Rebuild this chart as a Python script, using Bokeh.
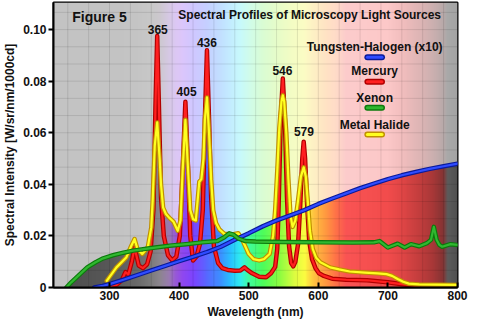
import numpy as np
from bokeh.plotting import figure
from bokeh.models import Range1d, FixedTicker, CustomJSTickFormatter
from bokeh.embed import file_html
from bokeh.resources import INLINE
from bokeh.core.properties import value

# ---------------- data ----------------
x_ticks = [300, 400, 500, 600, 700, 800]
y_ticks = [0, 0.02, 0.04, 0.06, 0.08, 0.10]

# Mercury
hg_wl = [280, 300, 310, 318, 323, 327, 332, 336, 339, 342, 348, 354, 359, 363, 366, 368.5, 371, 374, 378,
         384, 390, 396, 401, 405, 409, 413, 416, 420, 425, 430, 434, 437, 440, 443, 446, 450, 456, 462,
         470, 480, 488, 494, 498, 505, 515, 525, 532, 538, 541, 543, 546, 549, 552, 555, 558, 561, 564,
         567, 571, 574, 577, 579, 581, 584, 587, 591, 596, 601, 608, 620, 640, 670, 700, 720, 735, 745]
hg_val = [0.0, 0.0005, 0.001, 0.003, 0.006, 0.005, 0.010, 0.0155, 0.012, 0.0085, 0.0075, 0.009, 0.014,
          0.030, 0.070, 0.0975, 0.070, 0.035, 0.020, 0.0125, 0.0105, 0.012, 0.020, 0.045, 0.072, 0.045,
          0.020, 0.0105, 0.012, 0.017, 0.030, 0.065, 0.092, 0.065, 0.035, 0.016, 0.0095, 0.0075, 0.0068,
          0.0065, 0.0066, 0.0078, 0.0068, 0.0055, 0.0042, 0.004, 0.0055, 0.008, 0.015, 0.032, 0.065,
          0.081, 0.065, 0.035, 0.016, 0.0095, 0.0082, 0.010, 0.017, 0.032, 0.050, 0.0565, 0.050, 0.032,
          0.018, 0.011, 0.0075, 0.0055, 0.0045, 0.0034, 0.003, 0.0028, 0.002, 0.0013, 0.0008, 0.0003]

# Metal halide
mh_wl = [296, 310, 324, 331, 336, 340, 347, 355, 360, 362, 365, 368.5, 372, 374, 377, 381, 386, 392, 398,
         402, 405, 409, 413, 416, 420, 424, 427, 429, 432, 435, 437, 440, 443, 446, 449, 453, 458, 465,
         475, 485, 490, 495, 500, 507, 515, 522, 530, 535, 538, 541, 544, 547, 549, 551, 554, 557, 560,
         563, 567, 571, 575, 579, 582, 585, 588, 592, 597, 603, 617, 630, 645, 667, 685, 698, 706, 714,
         722, 730, 745, 770, 800]
mh_val = [0.0026, 0.0078, 0.0116, 0.016, 0.0188, 0.015, 0.013, 0.0156, 0.0233, 0.0337, 0.055, 0.064,
          0.050, 0.040, 0.031, 0.0285, 0.027, 0.0255, 0.022, 0.026, 0.045, 0.065, 0.045, 0.030, 0.0265,
          0.026, 0.035, 0.041, 0.042, 0.050, 0.065, 0.0737, 0.060, 0.042, 0.030, 0.025, 0.0225, 0.0208,
          0.0205, 0.021, 0.019, 0.016, 0.013, 0.011, 0.0105, 0.011, 0.013, 0.020, 0.030, 0.045, 0.062,
          0.072, 0.0745, 0.072, 0.060, 0.042, 0.028, 0.0235, 0.026, 0.034, 0.043, 0.0466, 0.043, 0.033,
          0.022, 0.015, 0.0115, 0.0098, 0.0078, 0.007, 0.0062, 0.0058, 0.0055, 0.0052, 0.0045, 0.0033,
          0.0022, 0.0015, 0.0012, 0.0011, 0.001]

# Xenon
xe_wl = [238, 245, 255, 268, 280, 291, 305, 320, 334, 360, 386, 410, 433, 455, 465, 472, 478, 485, 495,
         510, 550, 600, 650, 680, 688, 700, 714, 724, 733, 745, 756, 762, 766, 770, 774, 778, 790, 800]
xe_val = [0.0, 0.002, 0.0045, 0.0078, 0.0098, 0.0113, 0.0125, 0.0135, 0.0143, 0.0153, 0.0162, 0.0168,
          0.0175, 0.018, 0.0195, 0.021, 0.0205, 0.019, 0.018, 0.0178, 0.0176, 0.0175, 0.0174, 0.0175,
          0.018, 0.0155, 0.017, 0.0155, 0.0168, 0.016, 0.0172, 0.0185, 0.0235, 0.0185, 0.0165, 0.0158,
          0.0168, 0.0165]

# Tungsten-halogen (x10)
th_wl = [278, 290, 300, 320, 340, 360, 380, 400, 420, 440, 460, 480, 500, 520, 540, 560, 580, 600, 620,
         640, 660, 680, 700, 720, 740, 760, 780, 800]
th_val = [0.0, 0.0006, 0.0013, 0.003, 0.0048, 0.0066, 0.0084, 0.0102, 0.0119, 0.0137, 0.0158, 0.0185,
          0.021, 0.0237, 0.026, 0.028, 0.030, 0.0324, 0.0345, 0.0365, 0.0385, 0.0403, 0.042, 0.0435,
          0.0448, 0.046, 0.047, 0.048]

peak_labels = ["365", "405", "436", "546", "579"]
legend_labels = ["Tungsten-Halogen (x10)", "Mercury", "Xenon", "Metal Halide"]

# ---------------- layout ----------------
X0, X1 = 219.5, 800.0
Y0, Y1 = 0.0, 0.1105
FW, FH = 408, 285

p = figure(width=478, height=327, x_range=Range1d(X0, X1), y_range=Range1d(Y0, Y1),
           output_backend="svg", toolbar_location=None,
           min_border_left=49, min_border_right=21, min_border_top=2, min_border_bottom=40)
p.border_fill_color = "white"
p.background_fill_color = "white"
p.outline_line_color = "black"
p.outline_line_width = 2
p.xgrid.visible = False
p.ygrid.visible = False

FONT = value("Liberation Sans")
TXT = "#111111"

# ---------------- background spectrum image ----------------
stops = [219.5, 300, 340, 360, 372, 385, 395, 405, 420, 440, 460, 475, 488, 500, 520, 545, 565, 580, 595,
         610, 625, 640, 700, 720, 745, 765, 780, 786, 800]
pastel = ["#c3c3c3", "#c3c3c3", "#c5c5c5", "#c8c8c8", "#cdc8cf", "#d6c8e4", "#dcc8f4", "#dcc6fc",
          "#d0c8ff", "#c6d0ff", "#c2e0ff", "#c4eeff", "#c8fafc", "#d0fcec", "#dafcd4", "#eafcc8",
          "#f6fcc4", "#fcfcc4", "#fef0c4", "#ffe4c4", "#ffdcc8", "#fccccc", "#fcc8c8", "#f2bebe",
          "#e0b6b6", "#ccb0b0", "#b8aaaa", "#a9a9a9", "#a4a4a4"]
satur = ["#4c4c4c", "#585858", "#6a6a6a", "#7c7c7c", "#8c868e", "#9a7cb0", "#9858d8", "#9048f0",
         "#7c44ff", "#5868ff", "#3c90ff", "#28c4ff", "#30ecf0", "#40fca0", "#4cfc5c", "#90fc40",
         "#dcfc40", "#fcfc40", "#ffc040", "#ff9c40", "#ff7448", "#fa5454", "#f24c4c", "#e04646",
         "#c43e3e", "#a83838", "#843434", "#5c5c5c", "#505050"]


def hex2rgb(h):
    return [int(h[i:i + 2], 16) for i in (1, 3, 5)]


def interp_colors(xs, cols):
    arr = np.array([hex2rgb(c) for c in cols], dtype=float)
    return np.stack([np.interp(xs, stops, arr[:, k]) for k in range(3)], axis=1)


xs = X0 + (np.arange(FW) + 0.5) * (X1 - X0) / FW
ys = Y0 + (np.arange(FH) + 0.5) * (Y1 - Y0) / FH
env = np.zeros(FW)
for wl, vv in ((hg_wl, hg_val), (mh_wl, mh_val), (xe_wl, xe_val), (th_wl, th_val)):
    env = np.maximum(env, np.interp(xs, wl, vv, left=0, right=0))
pc = interp_colors(xs, pastel)
sc = interp_colors(xs, satur)
below = ys[:, None] <= env[None, :]
rgb = np.where(below[:, :, None], sc[None, :, :], pc[None, :, :])
img = np.empty((FH, FW), dtype=np.uint32)
view = img.view(dtype=np.uint8).reshape((FH, FW, 4))
view[:, :, 0:3] = np.clip(rgb, 0, 255).astype(np.uint8)
view[:, :, 3] = 255
p.image_rgba(image=[img], x=X0, y=Y0, dw=X1 - X0, dh=Y1 - Y0)

# ---------------- faint grid ----------------
gx = list(np.arange(240, 800, 30.0))
gy = [0.02 / 3 * k for k in range(1, 17)]
p.segment(x0=gx, y0=[Y0] * len(gx), x1=gx, y1=[Y1] * len(gx), line_color="black", line_alpha=0.1, line_width=1)
p.segment(x0=[X0] * len(gy), y0=gy, x1=[X1] * len(gy), y1=gy, line_color="black", line_alpha=0.1, line_width=1)

# ---------------- curves ----------------
styles = [
    (hg_wl, hg_val, "#b00000", "#ff2020"),
    (mh_wl, mh_val, "#c09000", "#ffff20"),
    (th_wl, th_val, "#0a1a9a", "#2f4cff"),
    (xe_wl, xe_val, "#0c7a0c", "#30b830"),
]
for wl, vv, outer, inner in styles:
    p.line(wl, vv, line_color=outer, line_width=4.5, line_join="round", line_cap="round")
    p.line(wl, vv, line_color=inner, line_width=2.2, line_join="round", line_cap="round")

# ---------------- texts ----------------
p.text(x=[246.4], y=[0.1048], text=["Figure 5"], text_font=FONT, text_font_style="bold",
       text_font_size="14px", text_align="left", text_baseline="middle", text_color=TXT)
p.text(x=[587.6], y=[0.1055], text=["Spectral Profiles of Microscopy Light Sources"], text_font=FONT,
       text_font_style="bold", text_font_size="12px", text_align="center", text_baseline="middle",
       text_color=TXT)
p.text(x=[369.3, 410.7, 440.0, 548.4, 579.3], y=[0.1001, 0.0758, 0.0948, 0.0842, 0.0603],
       text=peak_labels, text_font=FONT, text_font_style="bold", text_font_size="12px",
       text_align="center", text_baseline="middle", text_color=TXT)

# legend
leg_text_y = [0.0934, 0.0838, 0.0736, 0.0631]
leg_pill_y = [0.0893, 0.0798, 0.0697, 0.0593]
leg_outer = ["#0a1a9a", "#b00000", "#0c7a0c", "#c09000"]
leg_inner = ["#2f4cff", "#ff2020", "#30b830", "#ffff20"]
p.text(x=[681] * 4, y=leg_text_y, text=legend_labels, text_font=FONT, text_font_style="bold",
       text_font_size="12px", text_align="center", text_baseline="middle", text_color=TXT)
p.segment(x0=[670.5] * 4, y0=leg_pill_y, x1=[691.5] * 4, y1=leg_pill_y, line_color=leg_outer,
          line_width=6, line_cap="round")
p.segment(x0=[670.5] * 4, y0=leg_pill_y, x1=[691.5] * 4, y1=leg_pill_y, line_color=leg_inner,
          line_width=3, line_cap="round")

# ---------------- axes ----------------
xa = p.xaxis[0]
xa.ticker = FixedTicker(ticks=x_ticks)
xa.major_tick_in = 5
xa.major_tick_out = 0
xa.minor_tick_line_color = None
xa.axis_line_width = 2
xa.major_tick_line_width = 2
xa.major_label_standoff = 3
xa.axis_label = "Wavelength (nm)"
xa.axis_label_standoff = 2

ya = p.yaxis[0]
ya.ticker = FixedTicker(ticks=y_ticks)
ya.formatter = CustomJSTickFormatter(code="return tick == 0 ? '0' : tick.toFixed(2);")
ya.major_tick_in = 0
ya.major_tick_out = 5
ya.minor_tick_line_color = None
ya.axis_line_width = 2
ya.major_tick_line_width = 2
ya.major_label_standoff = 2
ya.axis_label = "Spectral Intensity [W/sr/nm/1000cd]"
ya.axis_label_standoff = 3

for ax in (xa, ya):
    ax.major_label_text_font = "Liberation Sans"
    ax.major_label_text_font_style = "bold"
    ax.major_label_text_font_size = "12px"
    ax.major_label_text_color = TXT
    ax.axis_label_text_font = "Liberation Sans"
    ax.axis_label_text_font_style = "bold"
    ax.axis_label_text_font_size = "12px"
    ax.axis_label_text_color = TXT

open("out.html", "w").write(file_html(p, INLINE))
